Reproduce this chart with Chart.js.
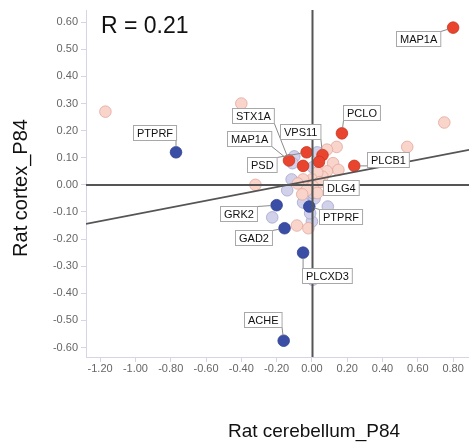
<!DOCTYPE html>
<html>
<head>
<meta charset="utf-8">
<script src="https://cdn.jsdelivr.net/npm/chart.js@4.4.1/dist/chart.umd.min.js"></script>
<style>
html,body{margin:0;padding:0;background:#fff;overflow:hidden}
#wrap{width:469px;height:443px;position:relative}
</style>
</head>
<body>
<div id="wrap"><canvas id="c"></canvas></div>
<script>
// ---- data ----
const xTickValues = [-1.2, -1.0, -0.8, -0.6, -0.4, -0.2, 0, 0.2, 0.4, 0.6, 0.8];
const yTickValues = [-0.6, -0.5, -0.4, -0.3, -0.2, -0.1, 0, 0.1, 0.2, 0.3, 0.4, 0.5, 0.6];

const strongUpX = [0.80, 0.17, 0.24, -0.03, -0.13, -0.05, 0.06, 0.04];
const strongUpY = [0.58, 0.19, 0.07, 0.12, 0.09, 0.07, 0.11, 0.085];

const weakUpX = [-1.17, -0.40, 0.75, 0.54, -0.32, 0.14, 0.085, 0.12, 0.15, 0.085, 0.06, 0.03, 0.00, 0.045, -0.05, -0.08, 0.005, -0.03, 0.03, -0.055, -0.085, -0.02];
const weakUpY = [0.27, 0.30, 0.23, 0.14, 0.00, 0.14, 0.13, 0.08, 0.055, 0.05, 0.03, 0.045, 0.02, 0.01, 0.02, 0.005, -0.005, -0.02, -0.03, -0.035, -0.15, -0.16];

const weakDownX = [-0.10, -0.11, 0.03, 0.005, -0.115, -0.14, -0.01, 0.015, -0.05, 0.005, 0.09, -0.225, 0.00, -0.01, 0.005];
const weakDownY = [0.105, 0.08, 0.12, 0.065, 0.02, -0.02, -0.035, -0.05, -0.065, -0.03, -0.08, -0.12, -0.135, -0.105, -0.35];

const strongDownX = [-0.77, -0.20, -0.015, -0.155, -0.05, -0.16];
const strongDownY = [0.12, -0.075, -0.08, -0.16, -0.25, -0.575];

const fitX = [-1.28, 0.89];
const fitY = [-0.144, 0.129];

const labelNames = ['MAP1A', 'PTPRF', 'PCLO', 'PLCB1', 'STX1A', 'MAP1A', 'VPS11', 'PSD', 'DLG4', 'GRK2', 'PTPRF', 'GAD2', 'PLCXD3', 'ACHE'];
const labelX = [0.80, -0.77, 0.17, 0.24, -0.13, -0.13, 0.06, -0.03, 0.045, -0.20, -0.015, -0.155, -0.05, -0.16];
const labelY = [0.58, 0.12, 0.19, 0.07, 0.09, 0.09, 0.11, 0.12, 0.01, -0.075, -0.08, -0.16, -0.25, -0.575];

const rText = 'R = 0.21';
const xTitle = 'Rat cerebellum_P84';
const yTitle = 'Rat cortex_P84';

// ---- helpers ----
const pts = (xs, ys) => xs.map((x, i) => ({x: x, y: ys[i]}));
const FONT = 'Arial, "Liberation Sans", Helvetica, sans-serif';

// label box placement (pixel offsets of box centre from its point)
const labelBoxOffsets = [
  [-35, 11], [-21, -20], [20, -20.5], [33.5, -6.5], [-36, -45], [-40, -21.5],
  [-22.5, -24], [-45, 12.5], [21.5, 5.5], [-38.5, 8], [31.5, 9.5], [-31.5, 9.5],
  [24, 22.5], [-20.5, -21]
];

const overlayPlugin = {
  id: 'overlay',
  afterDatasetsDraw(chart) {
    const {ctx, chartArea: a, scales: {x, y}} = chart;
    ctx.save();
    ctx.strokeStyle = '#555';
    ctx.lineWidth = 2;
    const x0 = Math.round(x.getPixelForValue(0)) + 0.5;
    const y0 = Math.round(y.getPixelForValue(0));
    ctx.beginPath();
    ctx.moveTo(x0, a.top); ctx.lineTo(x0, a.bottom);
    ctx.moveTo(a.left, y0); ctx.lineTo(a.right, y0);
    ctx.stroke();
    ctx.restore();
  },
  afterDraw(chart) {
    const {ctx, chartArea: a, scales: {x, y}} = chart;
    ctx.save();
    // point labels
    ctx.font = '11px ' + FONT;
    ctx.textBaseline = 'middle';
    ctx.textAlign = 'center';
    labelNames.forEach((name, i) => {
      const px = x.getPixelForValue(labelX[i]);
      const py = y.getPixelForValue(labelY[i]);
      const [dx, dy] = labelBoxOffsets[i];
      const w = ctx.measureText(name).width + 7;
      const h = 15;
      const cx = px + dx, cy = py + dy;
      const l = Math.round(cx - w / 2) + 0.5, t = Math.round(cy - h / 2) + 0.5;
      // leader line
      const qx = Math.min(Math.max(px, l), l + w);
      const qy = Math.min(Math.max(py, t), t + h);
      const d = Math.hypot(px - qx, py - qy);
      if (d > 7) {
        const ex = px - (px - qx) / d * 5.5;
        const ey = py - (py - qy) / d * 5.5;
        ctx.strokeStyle = '#8a8a8a';
        ctx.lineWidth = 1;
        ctx.beginPath(); ctx.moveTo(qx, qy); ctx.lineTo(ex, ey); ctx.stroke();
      }
      ctx.fillStyle = '#ffffff';
      ctx.fillRect(l, t, w, h);
      ctx.strokeStyle = '#a8a8a8';
      ctx.lineWidth = 1;
      ctx.strokeRect(l, t, w, h);
      ctx.fillStyle = '#111';
      ctx.fillText(name, l + w / 2, t + h / 2 + 0.5);
    });
    // R text
    ctx.fillStyle = '#111';
    ctx.textAlign = 'left';
    ctx.textBaseline = 'alphabetic';
    ctx.font = '23px ' + FONT;
    ctx.fillText(rText, 101, 33);
    // axis titles
    ctx.font = '19px ' + FONT;
    ctx.textAlign = 'center';
    ctx.fillText(xTitle, 314, 437);
    ctx.font = '20px ' + FONT;
    ctx.translate(27, 188);
    ctx.rotate(-Math.PI / 2);
    ctx.fillText(yTitle, 0, 0);
    ctx.restore();
  }
};

const axisColor = '#d5d5e5';

new Chart(document.getElementById('c'), {
  type: 'scatter',
  data: {
    datasets: [
      { type: 'line', data: pts(fitX, fitY), borderColor: '#555', borderWidth: 1.6, pointRadius: 0, showLine: true, fill: false, order: -1 },
      { data: pts(strongUpX, strongUpY), backgroundColor: '#e8442e', borderColor: '#c9351f', borderWidth: 0.8, pointRadius: 5.8, order: 0 },
      { data: pts(strongDownX, strongDownY), backgroundColor: '#3b4ea6', borderColor: '#2f408e', borderWidth: 0.8, pointRadius: 5.8, order: 1 },
      { data: pts(weakUpX, weakUpY), backgroundColor: '#f9d4cb', borderColor: '#e3a79c', borderWidth: 0.8, pointRadius: 5.8, order: 2 },
      { data: pts(weakDownX, weakDownY), backgroundColor: '#d1d1eb', borderColor: '#a6a6cc', borderWidth: 0.8, pointRadius: 5.8, order: 3 }
    ]
  },
  options: {
    responsive: true,
    maintainAspectRatio: false,
    animation: false,
    events: [],
    layout: { autoPadding: false, padding: { top: 10, right: 0, bottom: 0, left: 0 } },
    plugins: { legend: { display: false }, tooltip: { enabled: false } },
    scales: {
      x: {
        type: 'linear', min: -1.28, max: 0.89,
        afterBuildTicks: s => { s.ticks = xTickValues.map(v => ({value: v})); },
        afterFit: s => { s.height = 86; s.paddingLeft = 0; s.paddingRight = 0; },
        ticks: { font: { size: 11, family: FONT }, color: '#666', padding: 0, maxRotation: 0,
                 callback: v => Number(v).toFixed(2) },
        grid: { drawOnChartArea: false, drawTicks: true, tickLength: 5, color: axisColor },
        border: { display: true, color: axisColor, width: 1 }
      },
      y: {
        type: 'linear', min: -0.635, max: 0.645,
        afterBuildTicks: s => { s.ticks = yTickValues.map(v => ({value: v})); },
        afterFit: s => { s.width = 86; s.paddingTop = 0; s.paddingBottom = 0; },
        ticks: { font: { size: 11, family: FONT }, color: '#666', padding: 3,
                 callback: v => Number(v).toFixed(2) },
        grid: { drawOnChartArea: false, drawTicks: true, tickLength: 5, color: axisColor },
        border: { display: true, color: axisColor, width: 1 }
      }
    }
  },
  plugins: [overlayPlugin]
});
</script>
</body>
</html>
